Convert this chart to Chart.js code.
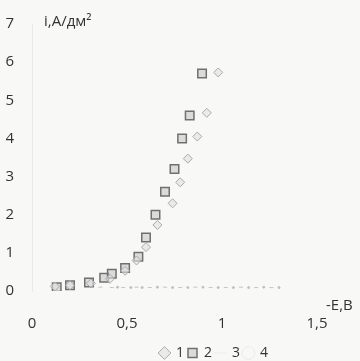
<!DOCTYPE html>
<html>
<head>
<meta charset="utf-8">
<script src="https://cdn.jsdelivr.net/npm/chart.js@4"></script>
<style>
  html, body { margin: 0; padding: 0; background: #f8f8f7; }
  #wrap { width: 360px; height: 361px; }
</style>
</head>
<body>
<div id="wrap"><canvas id="chart"></canvas></div>
<script>
// potential, -E (V)
const s1x = [0.12, 0.20, 0.31, 0.41, 0.49, 0.55, 0.60, 0.66, 0.74, 0.78, 0.82, 0.87, 0.92, 0.98];
const s1y = [0.12, 0.15, 0.20, 0.32, 0.53, 0.80, 1.15, 1.73, 2.30, 2.85, 3.47, 4.05, 4.67, 5.73];
const s2x = [0.13, 0.20, 0.30, 0.38, 0.42, 0.49, 0.56, 0.60, 0.65, 0.70, 0.75, 0.79, 0.83, 0.895];
const s2y = [0.10, 0.15, 0.22, 0.35, 0.45, 0.60, 0.90, 1.40, 2.00, 2.60, 3.20, 4.00, 4.60, 5.70];
const s3x = [0.36, 0.42, 0.48, 0.55, 0.62, 0.70, 0.78, 0.86, 0.94, 1.02, 1.10, 1.18, 1.26];
const s3y = [0.10, 0.09, 0.09, 0.10, 0.09, 0.10, 0.09, 0.10, 0.09, 0.09, 0.10, 0.09, 0.09];
const s4x = [0.45, 0.52, 0.58, 0.66, 0.74, 0.82, 0.90, 0.98, 1.06, 1.14, 1.22, 1.30];
const s4y = [0.10, 0.09, 0.09, 0.10, 0.09, 0.09, 0.10, 0.09, 0.09, 0.09, 0.10, 0.09];
const seriesNames = ['1', '2', '3', '4'];
const xTicks = [0, 0.5, 1, 1.5];
const yTicks = [0, 1, 2, 3, 4, 5, 6, 7];

function pts(xs, ys) {
  return xs.map((x, i) => ({ x: x, y: ys[i] }));
}

const axisTitles = {
  id: 'axisTitles',
  afterLayout(chart) {
    // legend sits low and right of centre in the original
    const lg = chart.legend;
    const dy = 356 - (lg.top + lg.bottom) / 2;
    const dx = 214 - (lg.left + lg.right) / 2;
    lg.top += dy; lg.bottom += dy;
    lg.left += dx; lg.right += dx;
  },
  afterDraw(chart) {
    const ctx = chart.ctx;
    ctx.save();
    ctx.fillStyle = '#333';
    ctx.font = '15px "Open Sans", sans-serif';
    ctx.textBaseline = 'middle';
    ctx.textAlign = 'left';
    ctx.fillText('i,А/дм²', 44, 22);
    ctx.fillText('-E,B', 326, 306);
    ctx.restore();
  }
};

new Chart(document.getElementById('chart'), {
  type: 'scatter',
  data: {
    datasets: [
      {
        label: seriesNames[0],
        data: pts(s1x, s1y),
        pointStyle: 'rectRot',
        pointRadius: 4.5,
        borderWidth: 1,
        borderColor: '#a9a9a9',
        backgroundColor: 'rgba(225,225,225,0.6)'
      },
      {
        label: seriesNames[1],
        data: pts(s2x, s2y),
        pointStyle: 'rect',
        pointRadius: 6,
        borderWidth: 1.5,
        borderColor: '#707070',
        backgroundColor: 'rgba(190,190,190,0.5)'
      },
      {
        label: seriesNames[2],
        data: pts(s3x, s3y),
        pointStyle: 'line',
        pointRadius: 2,
        borderWidth: 1,
        borderColor: '#c4c4c4',
        backgroundColor: '#c4c4c4'
      },
      {
        label: seriesNames[3],
        data: pts(s4x, s4y),
        pointStyle: 'circle',
        pointRadius: 1,
        borderWidth: 1,
        borderColor: '#bdbdbd',
        backgroundColor: '#bdbdbd'
      }
    ]
  },
  options: {
    responsive: true,
    maintainAspectRatio: false,
    animation: false,
    layout: { padding: { top: 24, left: 6, right: 43, bottom: 0 } },
    plugins: {
      tooltip: { enabled: false },
      legend: {
        position: 'bottom',
        labels: {
          usePointStyle: true,
          boxWidth: 9,
          boxHeight: 9,
          padding: 4,
          color: '#333',
          font: { family: '"Open Sans", sans-serif', size: 14 },
          generateLabels(chart) {
            const items = Chart.defaults.plugins.legend.labels.generateLabels(chart);
            items.forEach((it, i) => {
              if (i >= 2) {
                it.fillStyle = 'rgba(0,0,0,0)';
                it.strokeStyle = 'rgba(200,200,200,0.25)';
              }
            });
            return items;
          }
        }
      }
    },
    scales: {
      x: {
        type: 'linear',
        min: 0,
        max: 1.5,
        afterBuildTicks(axis) {
          axis.ticks = xTicks.map(v => ({ value: v }));
        },
        afterFit(axis) { axis.height = 42; },
        border: { display: false },
        grid: { display: false },
        ticks: {
          padding: 16,
          color: '#333',
          font: { family: '"Open Sans", sans-serif', size: 15 },
          callback: v => String(v).replace('.', ',')
        }
      },
      y: {
        type: 'linear',
        min: 0,
        max: 7,
        afterBuildTicks(axis) {
          axis.ticks = yTicks.map(v => ({ value: v }));
        },
        afterFit(axis) { axis.width = 26; },
        border: { display: true, color: 'rgba(0,0,0,0.06)' },
        grid: { display: false },
        ticks: {
          padding: 10,
          color: '#333',
          font: { family: '"Open Sans", sans-serif', size: 15 }
        }
      }
    }
  },
  plugins: [axisTitles]
});
</script>
</body>
</html>
